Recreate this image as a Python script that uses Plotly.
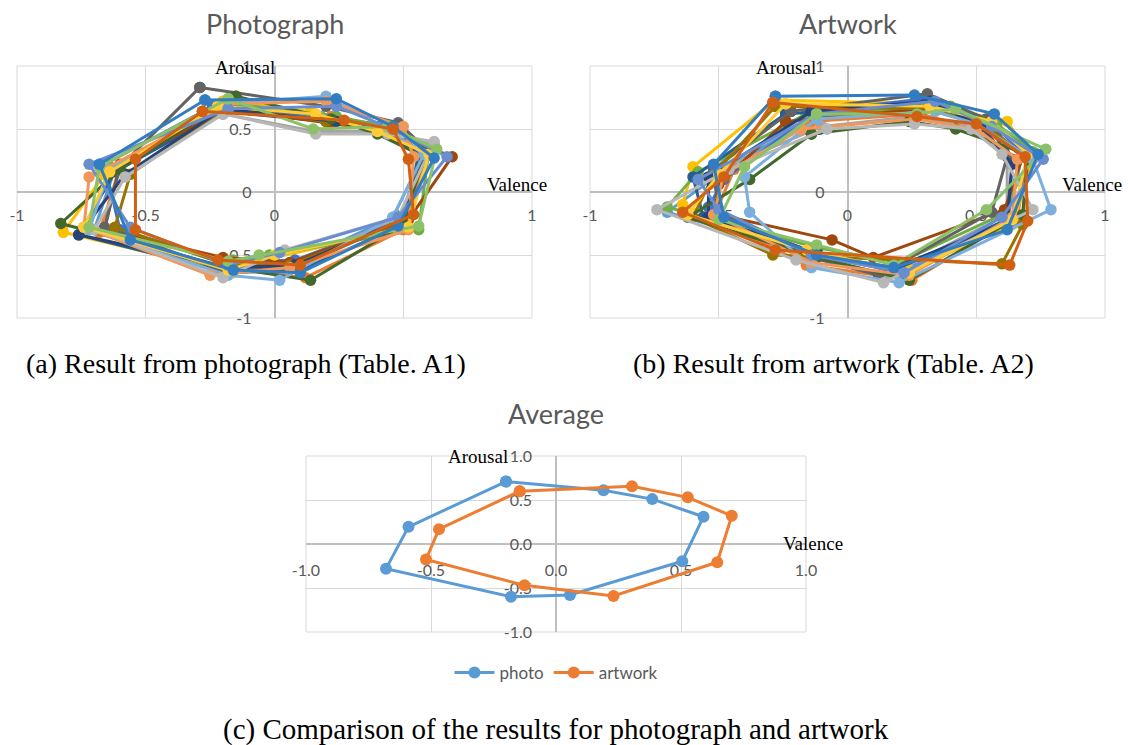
import plotly.graph_objects as go

# ---------------- data ----------------
# point order in every series: TL, TR, RU, R, RL, B, BL, LL, LU (polygon closes back to first)
photo_valence = [
    [-0.22, 0.18, 0.44, 0.58, 0.46, 0.06, -0.18, -0.70, -0.62],
    [-0.18, 0.22, 0.46, 0.60, 0.50, 0.12, -0.20, -0.68, -0.60],
    [-0.20, 0.16, 0.44, 0.62, 0.48, 0.06, -0.22, -0.74, -0.58],
    [-0.20, 0.14, 0.40, 0.60, 0.52, 0.00, -0.16, -0.82, -0.66],
    [-0.24, 0.20, 0.42, 0.58, 0.48, 0.08, -0.18, -0.60, -0.66],
    [-0.16, 0.24, 0.48, 0.60, 0.56, -0.02, -0.16, -0.72, -0.64],
    [-0.20, 0.20, 0.42, 0.56, 0.50, 0.10, -0.18, -0.76, -0.62],
    [-0.18, 0.22, 0.44, 0.69, 0.52, 0.06, -0.20, -0.66, -0.60],
    [-0.29, 0.20, 0.48, 0.60, 0.48, 0.08, -0.20, -0.66, -0.60],
    [-0.18, 0.20, 0.44, 0.58, 0.50, 0.06, -0.18, -0.62, -0.56],
    [-0.20, 0.24, 0.40, 0.58, 0.50, 0.08, -0.18, -0.76, -0.58],
    [-0.15, 0.22, 0.40, 0.58, 0.50, 0.14, -0.18, -0.83, -0.60],
    [-0.20, 0.20, 0.44, 0.58, 0.46, 0.02, -0.18, -0.72, -0.64],
    [-0.18, 0.20, 0.50, 0.54, 0.52, 0.06, -0.25, -0.74, -0.72],
    [-0.20, 0.16, 0.44, 0.62, 0.48, 0.04, -0.20, -0.70, -0.58],
    [-0.22, 0.16, 0.40, 0.60, 0.52, 0.00, -0.18, -0.74, -0.64],
    [-0.18, 0.24, 0.46, 0.67, 0.48, 0.02, -0.18, -0.56, -0.72],
    [-0.18, 0.15, 0.44, 0.63, 0.56, -0.06, -0.18, -0.72, -0.68],
    [-0.27, 0.24, 0.46, 0.62, 0.48, 0.10, -0.16, -0.56, -0.68],
    [-0.28, 0.27, 0.46, 0.52, 0.54, 0.10, -0.22, -0.54, -0.54],
]
photo_arousal = [
    [0.66, 0.60, 0.50, 0.30, -0.20, -0.58, -0.62, -0.30, 0.18],
    [0.70, 0.60, 0.50, 0.32, -0.30, -0.68, -0.60, -0.32, 0.20],
    [0.62, 0.48, 0.48, 0.38, -0.22, -0.56, -0.62, -0.28, 0.14],
    [0.72, 0.64, 0.52, 0.34, -0.28, -0.52, -0.64, -0.32, 0.14],
    [0.68, 0.58, 0.54, 0.30, -0.24, -0.54, -0.56, -0.30, 0.22],
    [0.70, 0.60, 0.50, 0.34, -0.30, -0.50, -0.54, -0.30, 0.20],
    [0.64, 0.56, 0.50, 0.30, -0.26, -0.62, -0.64, -0.34, 0.16],
    [0.66, 0.54, 0.48, 0.28, -0.22, -0.56, -0.52, -0.30, 0.22],
    [0.83, 0.68, 0.55, 0.32, -0.24, -0.60, -0.62, -0.28, 0.20],
    [0.68, 0.56, 0.48, 0.30, -0.24, -0.58, -0.58, -0.28, 0.14],
    [0.66, 0.56, 0.48, 0.28, -0.22, -0.58, -0.60, -0.34, 0.14],
    [0.76, 0.58, 0.46, 0.28, -0.26, -0.70, -0.60, -0.25, 0.18],
    [0.70, 0.76, 0.50, 0.30, -0.20, -0.70, -0.66, -0.30, 0.18],
    [0.70, 0.72, 0.52, 0.28, -0.30, -0.60, -0.66, -0.28, 0.12],
    [0.62, 0.46, 0.46, 0.40, -0.20, -0.46, -0.68, -0.30, 0.12],
    [0.68, 0.62, 0.48, 0.30, -0.28, -0.50, -0.62, -0.28, 0.16],
    [0.66, 0.68, 0.50, 0.28, -0.20, -0.48, -0.58, -0.28, 0.22],
    [0.74, 0.50, 0.52, 0.34, -0.27, -0.50, -0.55, -0.28, 0.20],
    [0.73, 0.74, 0.52, 0.27, -0.27, -0.64, -0.62, -0.38, 0.22],
    [0.64, 0.57, 0.50, 0.26, -0.18, -0.58, -0.54, -0.30, 0.26],
]
artwork_valence = [
    [-0.12, 0.30, 0.52, 0.68, 0.62, 0.22, -0.14, -0.70, -0.46],
    [-0.14, 0.28, 0.50, 0.70, 0.66, 0.25, -0.16, -0.52, -0.44],
    [-0.10, 0.26, 0.48, 0.62, 0.62, 0.16, -0.12, -0.50, -0.52],
    [-0.28, 0.30, 0.62, 0.72, 0.64, 0.24, -0.18, -0.64, -0.60],
    [-0.12, 0.30, 0.54, 0.70, 0.64, 0.18, -0.12, -0.54, -0.48],
    [-0.16, 0.40, 0.58, 0.72, 0.60, 0.20, -0.12, -0.70, -0.58],
    [-0.24, 0.30, 0.56, 0.64, 0.62, 0.18, -0.14, -0.56, -0.60],
    [-0.24, 0.30, 0.52, 0.68, 0.61, 0.10, -0.06, -0.50, -0.50],
    [-0.22, 0.31, 0.54, 0.62, 0.56, 0.12, -0.14, -0.50, -0.52],
    [-0.28, 0.30, 0.52, 0.70, 0.68, 0.60, -0.29, -0.60, -0.52],
    [-0.14, 0.32, 0.52, 0.64, 0.62, 0.16, -0.12, -0.54, -0.54],
    [-0.14, 0.24, 0.42, 0.70, 0.68, 0.24, -0.12, -0.62, -0.38],
    [-0.12, 0.34, 0.50, 0.72, 0.79, 0.20, -0.14, -0.38, -0.40],
    [-0.18, 0.26, 0.50, 0.66, 0.64, 0.24, -0.14, -0.52, -0.48],
    [-0.08, 0.26, 0.48, 0.60, 0.72, 0.14, -0.20, -0.74, -0.46],
    [-0.24, 0.32, 0.56, 0.70, 0.64, 0.24, -0.16, -0.62, -0.50],
    [-0.12, 0.34, 0.56, 0.76, 0.60, 0.22, -0.14, -0.50, -0.58],
    [-0.12, 0.27, 0.42, 0.77, 0.54, 0.18, -0.12, -0.50, -0.40],
    [-0.28, 0.26, 0.57, 0.74, 0.62, 0.18, -0.12, -0.48, -0.52],
    [-0.29, 0.27, 0.50, 0.69, 0.70, 0.63, -0.28, -0.64, -0.48],
]
artwork_arousal = [
    [0.60, 0.66, 0.56, 0.30, -0.22, -0.62, -0.50, -0.16, 0.20],
    [0.56, 0.62, 0.50, 0.30, -0.20, -0.70, -0.58, -0.20, 0.18],
    [0.52, 0.60, 0.52, 0.28, -0.18, -0.66, -0.52, -0.14, 0.16],
    [0.73, 0.70, 0.56, 0.26, -0.26, -0.62, -0.48, -0.10, 0.20],
    [0.64, 0.74, 0.58, 0.28, -0.24, -0.60, -0.50, -0.12, 0.10],
    [0.62, 0.68, 0.54, 0.32, -0.18, -0.56, -0.44, -0.12, 0.16],
    [0.62, 0.70, 0.58, 0.26, -0.22, -0.62, -0.50, -0.20, 0.12],
    [0.56, 0.66, 0.54, 0.28, -0.14, -0.52, -0.38, -0.18, 0.06],
    [0.64, 0.78, 0.58, 0.28, -0.16, -0.66, -0.52, -0.18, 0.18],
    [0.68, 0.66, 0.56, 0.26, -0.26, -0.57, -0.50, -0.20, 0.14],
    [0.64, 0.72, 0.52, 0.22, -0.24, -0.62, -0.48, -0.20, 0.12],
    [0.46, 0.56, 0.50, 0.30, -0.18, -0.70, -0.52, -0.20, 0.10],
    [0.58, 0.64, 0.54, 0.26, -0.14, -0.72, -0.60, -0.16, 0.12],
    [0.50, 0.58, 0.50, 0.26, -0.20, -0.66, -0.56, -0.18, 0.14],
    [0.50, 0.54, 0.50, 0.30, -0.14, -0.72, -0.54, -0.14, 0.18],
    [0.70, 0.68, 0.56, 0.30, -0.22, -0.64, -0.46, -0.18, 0.14],
    [0.62, 0.72, 0.52, 0.26, -0.20, -0.64, -0.50, -0.14, 0.10],
    [0.62, 0.62, 0.66, 0.34, -0.14, -0.58, -0.42, -0.22, 0.20],
    [0.76, 0.77, 0.62, 0.30, -0.30, -0.60, -0.50, -0.20, 0.22],
    [0.71, 0.60, 0.54, 0.28, -0.23, -0.58, -0.46, -0.16, 0.12],
]
avg_photo_valence = [-0.20, 0.19, 0.385, 0.59, 0.505, 0.056, -0.18, -0.68, -0.59]
avg_photo_arousal = [0.71, 0.61, 0.51, 0.31, -0.195, -0.58, -0.60, -0.28, 0.195]
avg_artwork_valence = [-0.145, 0.304, 0.527, 0.703, 0.645, 0.23, -0.126, -0.52, -0.468]
avg_artwork_arousal = [0.60, 0.655, 0.53, 0.32, -0.207, -0.59, -0.47, -0.176, 0.169]

series_names = ["photo", "artwork"]
top_ticks = [-1, -0.5, 0, 0.5, 1]
top_tick_text = ["-1", "-0.5", "0", "0.5", "1"]
avg_tick_text = ["-1.0", "-0.5", "0.0", "0.5", "1.0"]

# ---------------- style ----------------
excel_colors = ["#5B9BD5", "#ED7D31", "#A5A5A5", "#FFC000", "#4472C4", "#70AD47",
                "#255E91", "#9E480E", "#636363", "#997300", "#264478", "#43682B",
                "#7CAFDD", "#F1975A", "#B7B7B7", "#FFCD33", "#698ED0", "#8CC168",
                "#327DC2", "#D26012"]
W, H = 1128, 745
GRID = "#D9D9D9"
AXIS = "#BFBFBF"
SANS = "Lato, Open Sans, sans-serif"
TICKFONT = dict(family=SANS, size=16, color="#595959")
SERIF = "Liberation Serif, Times New Roman, serif"
LW, MS = 3, 11.5


def px_x(p):
    return p / W


def px_y(p):
    return 1 - p / H


panels = {
    "photo": dict(x=(17, 532), y=(66, 318), xoff=9, yoff=19),
    "art": dict(x=(590, 1105), y=(66, 318), xoff=9, yoff=19),
    "avg": dict(x=(306, 806), y=(456, 632), xoff=12, yoff=20),
}

fig = go.Figure()


def closed(vals):
    return list(vals) + [vals[0]]


for i, (vx, vy) in enumerate(zip(photo_valence, photo_arousal)):
    c = excel_colors[i % len(excel_colors)]
    fig.add_trace(go.Scatter(x=closed(vx), y=closed(vy), mode="lines+markers",
                             line=dict(color=c, width=LW), marker=dict(color=c, size=MS),
                             showlegend=False, xaxis="x", yaxis="y", hoverinfo="skip"))
for i, (vx, vy) in enumerate(zip(artwork_valence, artwork_arousal)):
    c = excel_colors[i % len(excel_colors)]
    fig.add_trace(go.Scatter(x=closed(vx), y=closed(vy), mode="lines+markers",
                             line=dict(color=c, width=LW), marker=dict(color=c, size=MS),
                             showlegend=False, xaxis="x2", yaxis="y2", hoverinfo="skip"))
for name, vx, vy, c in [(series_names[0], avg_photo_valence, avg_photo_arousal, excel_colors[0]),
                        (series_names[1], avg_artwork_valence, avg_artwork_arousal, excel_colors[1])]:
    fig.add_trace(go.Scatter(x=closed(vx), y=closed(vy), mode="lines+markers", name=name,
                             line=dict(color=c, width=LW), marker=dict(color=c, size=12),
                             xaxis="x3", yaxis="y3"))


def axes(key, tick_text):
    p = panels[key]
    xd = [px_x(p["x"][0]), px_x(p["x"][1])]
    yd = [px_y(p["y"][1]), px_y(p["y"][0])]
    xpos = (yd[0] + yd[1]) / 2
    ypos = (xd[0] + xd[1]) / 2
    common = dict(range=[-1, 1], tickvals=top_ticks, ticktext=tick_text, showgrid=True,
                  gridcolor=GRID, gridwidth=1, zeroline=False, showline=True,
                  linecolor=AXIS, linewidth=1.5, ticks="", tickfont=TICKFONT,
                  anchor="free", layer="below traces", fixedrange=True, automargin=False)
    xa = dict(common, domain=xd, position=xpos, ticklabelstandoff=p["xoff"])
    ya = dict(common, domain=yd, position=ypos, ticklabelstandoff=p["yoff"])
    return xa, ya


xa1, ya1 = axes("photo", top_tick_text)
xa2, ya2 = axes("art", top_tick_text)
xa3, ya3 = axes("avg", avg_tick_text)

fig.update_layout(
    template="none",
    width=W, height=H, margin=dict(l=0, r=0, t=0, b=0, pad=0, autoexpand=False),
    paper_bgcolor="white", plot_bgcolor="white",
    xaxis=xa1, yaxis=ya1,
    xaxis2=xa2, yaxis2=ya2,
    xaxis3=xa3, yaxis3=ya3,
    legend=dict(orientation="h", x=px_x(556), xanchor="center", y=px_y(673), yanchor="middle",
                font=dict(family=SANS, size=17, color="#595959"),
                itemwidth=40, traceorder="normal", bgcolor="rgba(0,0,0,0)"),
)

# plot borders
for xr, yr in [("x", "y"), ("x2", "y2"), ("x3", "y3")]:
    fig.add_shape(type="rect", xref=f"{xr} domain", yref=f"{yr} domain", x0=0, x1=1, y0=0, y1=1,
                  line=dict(color=GRID, width=1), layer="below")

ann = []
# chart titles
for txt, cx, cy in [("Photograph", 275, 24), ("Artwork", 848, 24), ("Average", 556, 413)]:
    ann.append(dict(text=txt, x=px_x(cx), y=px_y(cy), xref="paper", yref="paper", showarrow=False,
                    xanchor="center", yanchor="middle",
                    font=dict(family=SANS, size=27, color="#595959")))
# axis titles
for txt, cx, cy in [("Arousal", 245, 67), ("Valence", 517, 184),
                    ("Arousal", 786, 67), ("Valence", 1092, 184),
                    ("Arousal", 478, 456), ("Valence", 813, 543)]:
    ann.append(dict(text=txt, x=px_x(cx), y=px_y(cy), xref="paper", yref="paper", showarrow=False,
                    xanchor="center", yanchor="middle",
                    font=dict(family=SERIF, size=19, color="black")))
# captions
for txt, cx, cy, fs in [("(a) Result from photograph (Table. A1)", 246, 363, 28),
                        ("(b) Result from artwork (Table. A2)", 833, 363, 28),
                        ("(c) Comparison of the results for photograph and artwork", 556, 729, 29)]:
    ann.append(dict(text=txt, x=px_x(cx), y=px_y(cy), xref="paper", yref="paper", showarrow=False,
                    xanchor="center", yanchor="middle",
                    font=dict(family=SERIF, size=fs, color="black")))
fig.update_layout(annotations=ann)

fig.write_html("out.html", config={"displayModeBar": False},
               post_script="document.body.style.margin='0';document.body.style.overflow='hidden';")
